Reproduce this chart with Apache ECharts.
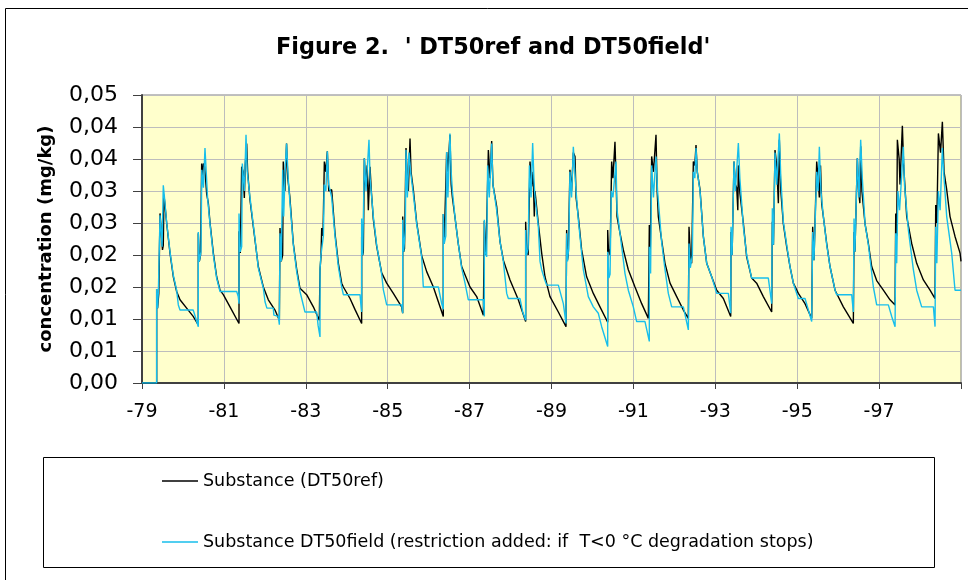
<!DOCTYPE html>
<html>
<head>
<meta charset="utf-8">
<script src="https://cdn.jsdelivr.net/npm/echarts@6/dist/echarts.min.js"></script>
<style>
html,body{margin:0;padding:0;background:#fff;}
#chart{width:968px;height:580px;}
</style>
</head>
<body>
<div id="chart"></div>
<script>
// x: time in years since 1 Jan 1979; y: concentration (mg/kg)
const xTickLabels = ['-79','-81','-83','-85','-87','-89','-91','-93','-95','-97'];
const seriesNames = ['Substance (DT50ref)', 'Substance DT50field (restriction added: if  T<0 °C degradation stops)'];

const refSeries = [
 [0,0],[0.358,0],[0.358,0.0147],[0.38,0.0117],[0.41,0.014],[0.44,0.014],[0.44,0.0265],[0.48,0.0262],[0.50,0.0208],[0.52,0.0215],[0.537,0.0294],[0.56,0.0294],[0.602,0.025],[0.684,0.0203],[0.765,0.0166],[0.846,0.0143],[0.928,0.013],[1.09,0.0117],[1.25,0.0104],[1.375,0.0091],
 [1.375,0.0234],[1.40,0.019],[1.43,0.020],[1.457,0.0343],[1.48,0.0322],[1.50,0.0343],[1.53,0.0338],[1.58,0.0295],[1.62,0.0281],[1.66,0.0251],[1.742,0.0203],[1.823,0.0166],[1.905,0.0145],[1.986,0.0138],[2.149,0.0119],[2.369,0.0093],
 [2.369,0.0237],[2.40,0.0203],[2.434,0.0203],[2.434,0.0338],[2.47,0.033],[2.499,0.0289],[2.52,0.034],[2.556,0.0374],[2.58,0.033],[2.637,0.0286],[2.76,0.0223],[2.84,0.0182],[2.963,0.015],[3.085,0.013],[3.248,0.0114],[3.354,0.0098],
 [3.37,0.0242],[3.40,0.019],[3.435,0.020],[3.45,0.0346],[3.49,0.030],[3.53,0.0374],[3.56,0.032],[3.61,0.0291],[3.695,0.0218],[3.777,0.0178],[3.858,0.0148],[4.021,0.0138],[4.184,0.0119],[4.33,0.0098],
 [4.347,0.0177],[4.37,0.0197],[4.388,0.0242],[4.42,0.023],[4.453,0.0346],[4.49,0.033],[4.526,0.0362],[4.56,0.030],[4.632,0.0302],[4.713,0.0234],[4.795,0.0187],[4.876,0.0156],[4.917,0.015],[5.08,0.0132],[5.2,0.0115],[5.364,0.0093],
 [5.364,0.0229],[5.39,0.020],[5.405,0.0205],[5.43,0.0351],[5.46,0.031],[5.50,0.034],[5.527,0.027],[5.568,0.0338],[5.60,0.030],[5.649,0.0256],[5.73,0.0214],[5.853,0.0172],[5.975,0.0156],[6.138,0.014],[6.34,0.0119],[6.366,0.0109],
 [6.366,0.026],[6.39,0.0205],[6.41,0.021],[6.447,0.0367],[6.48,0.032],[6.504,0.030],[6.545,0.0382],[6.57,0.033],[6.626,0.0302],[6.707,0.0251],[6.83,0.0199],[6.952,0.0174],[7.115,0.015],[7.358,0.0104],
 [7.358,0.0264],[7.38,0.0218],[7.40,0.022],[7.44,0.0361],[7.47,0.033],[7.52,0.0388],[7.55,0.031],[7.58,0.029],[7.643,0.0259],[7.725,0.0217],[7.806,0.0182],[8.01,0.015],[8.173,0.0135],[8.336,0.0106],
 [8.36,0.0253],[8.38,0.022],[8.40,0.020],[8.417,0.020],[8.458,0.0364],[8.50,0.032],[8.539,0.0378],[8.57,0.031],[8.661,0.0276],[8.743,0.0221],[8.824,0.0192],[8.987,0.0161],[9.19,0.013],[9.369,0.0096],
 [9.369,0.0252],[9.39,0.021],[9.43,0.020],[9.475,0.0346],[9.516,0.0307],[9.55,0.033],[9.58,0.026],[9.597,0.030],[9.678,0.0249],[9.76,0.0203],[9.841,0.0166],[9.963,0.0135],[10.167,0.0111],[10.354,0.0088],
 [10.37,0.0239],[10.39,0.0192],[10.41,0.020],[10.45,0.0333],[10.49,0.030],[10.533,0.036],[10.574,0.0354],[10.60,0.029],[10.655,0.026],[10.736,0.0208],[10.858,0.0166],[11.021,0.014],[11.184,0.0119],[11.372,0.0095],
 [11.372,0.0239],[11.39,0.021],[11.43,0.020],[11.469,0.0346],[11.50,0.032],[11.55,0.0377],[11.58,0.031],[11.60,0.026],[11.673,0.0234],[11.754,0.0208],[11.876,0.0177],[12.039,0.015],[12.202,0.0124],[12.365,0.0101],
 [12.389,0.0247],[12.41,0.020],[12.446,0.0354],[12.49,0.033],[12.552,0.0388],[12.58,0.030],[12.609,0.026],[12.69,0.0223],[12.772,0.0187],[12.894,0.0156],[13.057,0.0135],[13.22,0.0114],[13.342,0.0101],
 [13.358,0.0244],[13.39,0.020],[13.423,0.0187],[13.464,0.0346],[13.50,0.034],[13.529,0.0372],[13.56,0.033],[13.627,0.0302],[13.708,0.0229],[13.79,0.0187],[13.912,0.0166],[14.034,0.0145],[14.197,0.0132],[14.376,0.0104],
 [14.384,0.0236],[14.41,0.020],[14.457,0.0346],[14.49,0.031],[14.523,0.0305],[14.55,0.027],[14.563,0.034],[14.60,0.0297],[14.686,0.0249],[14.766,0.0197],[14.888,0.0164],[15.01,0.0156],[15.173,0.0135],[15.377,0.0111],
 [15.393,0.0252],[15.42,0.0216],[15.458,0.0364],[15.50,0.034],[15.54,0.0281],[15.564,0.038],[15.60,0.030],[15.661,0.0249],[15.743,0.0213],[15.824,0.0182],[15.906,0.0156],[16.028,0.014],[16.191,0.0124],[16.354,0.0101],
 [16.378,0.0244],[16.41,0.0192],[16.476,0.0346],[16.51,0.032],[16.541,0.029],[16.57,0.034],[16.598,0.028],[16.639,0.026],[16.72,0.0218],[16.801,0.0182],[16.924,0.0145],[17.127,0.0119],[17.371,0.0093],
 [17.388,0.0236],[17.41,0.0205],[17.469,0.0351],[17.50,0.030],[17.53,0.0281],[17.55,0.037],[17.58,0.030],[17.656,0.0249],[17.738,0.0218],[17.819,0.0182],[17.941,0.016],[18.104,0.0145],[18.267,0.013],[18.39,0.0122],
 [18.406,0.0265],[18.43,0.023],[18.446,0.038],[18.49,0.035],[18.51,0.031],[18.568,0.0402],[18.60,0.034],[18.674,0.026],[18.796,0.0218],[18.918,0.0187],[19.081,0.0161],[19.244,0.0145],[19.366,0.0132],
 [19.383,0.0278],[19.41,0.025],[19.448,0.039],[19.50,0.036],[19.545,0.0408],[19.586,0.033],[19.651,0.0302],[19.732,0.026],[19.854,0.0229],[19.977,0.0203],[20.0,0.019]
];

const fieldSeries = [
 [0,0],[0.358,0],[0.358,0.0147],[0.38,0.0117],[0.40,0.0143],[0.44,0.0143],[0.44,0.0262],[0.47,0.0234],[0.49,0.0213],[0.52,0.0309],[0.55,0.0289],[0.60,0.0252],[0.684,0.0205],[0.765,0.0168],[0.846,0.0145],[0.887,0.0122],[0.928,0.0114],[1.25,0.0114],[1.30,0.0104],[1.375,0.0088],
 [1.375,0.0236],[1.40,0.019],[1.44,0.0205],[1.46,0.0333],[1.50,0.0305],[1.538,0.0367],[1.56,0.034],[1.60,0.029],[1.66,0.0249],[1.742,0.020],[1.823,0.0164],[1.905,0.0143],[2.312,0.0143],[2.35,0.0135],[2.369,0.0124],
 [2.369,0.0265],[2.40,0.0205],[2.434,0.0213],[2.45,0.0343],[2.50,0.030],[2.54,0.0388],[2.57,0.033],[2.637,0.029],[2.76,0.0225],[2.84,0.018],[2.963,0.0148],[3.004,0.0127],[3.05,0.0117],[3.207,0.0117],[3.22,0.0106],[3.33,0.0104],[3.354,0.0091],
 [3.37,0.0234],[3.40,0.019],[3.435,0.0333],[3.46,0.026],[3.50,0.034],[3.53,0.0374],[3.57,0.032],[3.61,0.0285],[3.695,0.0216],[3.777,0.0174],[3.858,0.0143],[3.98,0.0111],[4.266,0.0111],[4.30,0.009],[4.347,0.0072],
 [4.347,0.0177],[4.37,0.020],[4.40,0.0197],[4.43,0.023],[4.45,0.031],[4.49,0.030],[4.526,0.0362],[4.56,0.031],[4.632,0.029],[4.713,0.023],[4.795,0.0182],[4.876,0.015],[4.917,0.0138],[5.324,0.0138],[5.35,0.0119],[5.364,0.0111],
 [5.364,0.0257],[5.39,0.020],[5.43,0.0351],[5.47,0.030],[5.543,0.038],[5.57,0.032],[5.649,0.026],[5.73,0.0216],[5.853,0.017],[5.893,0.0146],[5.975,0.0122],[6.34,0.0122],[6.366,0.0109],
 [6.366,0.0255],[6.39,0.0205],[6.43,0.024],[6.447,0.0364],[6.48,0.029],[6.52,0.036],[6.56,0.033],[6.626,0.0295],[6.707,0.0249],[6.83,0.0197],[6.87,0.015],[7.237,0.015],[7.318,0.0124],[7.358,0.0115],
 [7.358,0.0264],[7.38,0.0218],[7.42,0.023],[7.44,0.0361],[7.47,0.029],[7.52,0.039],[7.55,0.033],[7.58,0.030],[7.643,0.0259],[7.725,0.0217],[7.806,0.018],[7.888,0.0156],[7.969,0.013],[8.336,0.013],[8.36,0.0104],
 [8.36,0.0255],[8.38,0.0205],[8.417,0.0197],[8.44,0.034],[8.48,0.029],[8.539,0.0374],[8.57,0.031],[8.661,0.027],[8.743,0.0221],[8.824,0.019],[8.906,0.014],[8.946,0.0132],[9.231,0.0132],[9.30,0.011],[9.369,0.0098],
 [9.369,0.0239],[9.39,0.020],[9.43,0.021],[9.46,0.034],[9.50,0.029],[9.54,0.0375],[9.57,0.032],[9.597,0.029],[9.678,0.0245],[9.72,0.019],[9.76,0.0177],[9.841,0.016],[9.882,0.0153],[10.167,0.0153],[10.289,0.0124],[10.354,0.0093],
 [10.37,0.0234],[10.39,0.019],[10.42,0.021],[10.45,0.033],[10.49,0.029],[10.533,0.0369],[10.56,0.034],[10.60,0.030],[10.655,0.0255],[10.777,0.0177],[10.899,0.0135],[11.021,0.0119],[11.143,0.0109],[11.225,0.0088],[11.372,0.0057],
 [11.372,0.0205],[11.40,0.0164],[11.43,0.017],[11.46,0.030],[11.50,0.029],[11.575,0.0346],[11.60,0.027],[11.673,0.0234],[11.795,0.0171],[11.876,0.0145],[11.998,0.0119],[12.08,0.0096],[12.283,0.0096],[12.389,0.0065],
 [12.389,0.0213],[12.42,0.0171],[12.446,0.034],[12.49,0.029],[12.552,0.0354],[12.59,0.030],[12.69,0.022],[12.772,0.0177],[12.853,0.014],[12.935,0.0119],[13.22,0.0119],[13.342,0.0083],
 [13.358,0.0218],[13.39,0.018],[13.44,0.020],[13.464,0.033],[13.50,0.032],[13.529,0.0367],[13.56,0.033],[13.627,0.030],[13.708,0.0229],[13.79,0.0187],[13.912,0.0166],[14.034,0.014],[14.319,0.014],[14.376,0.0109],
 [14.384,0.0244],[14.41,0.020],[14.457,0.0346],[14.49,0.030],[14.563,0.0375],[14.60,0.032],[14.686,0.0244],[14.766,0.020],[14.888,0.0164],[15.295,0.0164],[15.377,0.0124],
 [15.393,0.0273],[15.42,0.0216],[15.458,0.036],[15.50,0.031],[15.564,0.039],[15.60,0.032],[15.661,0.0252],[15.743,0.0216],[15.824,0.0182],[15.906,0.0156],[16.028,0.0132],[16.191,0.0132],[16.354,0.0096],
 [16.378,0.0236],[16.41,0.0192],[16.476,0.033],[16.51,0.030],[16.541,0.0369],[16.58,0.030],[16.639,0.026],[16.72,0.0216],[16.801,0.0182],[16.924,0.0145],[16.964,0.0138],[17.331,0.0138],[17.371,0.0111],
 [17.388,0.0257],[17.41,0.0205],[17.469,0.0351],[17.51,0.029],[17.55,0.038],[17.59,0.032],[17.656,0.0249],[17.738,0.0216],[17.86,0.015],[17.941,0.0122],[18.226,0.0122],[18.308,0.0104],[18.39,0.0088],
 [18.406,0.0234],[18.43,0.0187],[18.46,0.030],[18.50,0.027],[18.593,0.0369],[18.62,0.031],[18.715,0.0239],[18.837,0.0177],[18.918,0.0145],[19.04,0.0119],[19.326,0.0119],[19.366,0.0088],
 [19.383,0.0244],[19.41,0.0187],[19.448,0.030],[19.49,0.027],[19.545,0.0367],[19.586,0.032],[19.651,0.026],[19.773,0.0203],[19.854,0.0145],[20.0,0.0145]
];

const chart = echarts.init(document.getElementById('chart'), null, {renderer: 'canvas'});
const FONT = '"DejaVu Sans", Verdana, sans-serif';
chart.setOption({
  animation: false,
  backgroundColor: '#ffffff',
  title: {
    text: "Figure 2.  ' DT50ref and DT50field'",
    left: 276,
    top: 37,
    padding: 0,
    textStyle: {fontFamily: FONT, fontSize: 22.4, fontWeight: 'bold', color: '#000'}
  },
  legend: {
    orient: 'vertical',
    left: 157,
    top: 467,
    itemGap: 43,
    itemWidth: 36,
    itemHeight: 1.6,
    icon: 'rect',
    data: seriesNames,
    textStyle: {fontFamily: FONT, fontSize: 17.5, color: '#000'}
  },
  graphic: [
    {type: 'rect', shape: {x: 5.5, y: 8.5, width: 980, height: 600}, style: {fill: null, stroke: '#000', lineWidth: 1}, silent: true, z: -1},
    {type: 'rect', shape: {x: 43.5, y: 457.5, width: 891, height: 110}, style: {fill: null, stroke: '#000', lineWidth: 1}, silent: true, z: -1}
  ],
  grid: {
    left: 142, top: 95, width: 819, height: 288,
    show: true, backgroundColor: '#FFFFCC', borderColor: '#808080', borderWidth: 1
  },
  xAxis: {
    type: 'value', min: 0, max: 20, interval: 2,
    axisLine: {show: true, onZero: false, lineStyle: {color: '#404040', width: 2}},
    axisTick: {show: true, inside: false, length: 6, lineStyle: {color: '#404040', width: 1}},
    splitLine: {show: true, lineStyle: {color: '#BDBDBD', width: 1}},
    axisLabel: {
      fontFamily: FONT, fontSize: 19, color: '#000', margin: 20,
      formatter: function (v) { const i = Math.round(v / 2); return i < xTickLabels.length ? xTickLabels[i] : ''; }
    }
  },
  yAxis: {
    type: 'value', min: 0, max: 0.045, interval: 0.005,
    name: 'concentration (mg/kg)', nameLocation: 'middle', nameGap: 87,
    nameTextStyle: {fontFamily: FONT, fontSize: 18, fontWeight: 'bold', color: '#000'},
    axisLine: {show: true, lineStyle: {color: '#404040', width: 2}},
    axisTick: {show: true, inside: false, length: 9, lineStyle: {color: '#404040', width: 1}},
    splitLine: {show: true, lineStyle: {color: '#BDBDBD', width: 1}},
    axisLabel: {
      fontFamily: FONT, fontSize: 22, color: '#000', margin: 24,
      formatter: function (v) { return (Math.round(v * 100 + 1e-9) / 100).toFixed(2).replace('.', ','); }
    }
  },
  series: [
    {name: seriesNames[0], type: 'line', data: refSeries, showSymbol: false, symbol: 'none',
     lineStyle: {color: '#000000', width: 1.4}, itemStyle: {color: '#000000'}, z: 2},
    {name: seriesNames[1], type: 'line', data: fieldSeries, showSymbol: false, symbol: 'none',
     lineStyle: {color: '#17BEEB', width: 1.4}, itemStyle: {color: '#17BEEB'}, z: 3}
  ]
});
</script>
</body>
</html>
